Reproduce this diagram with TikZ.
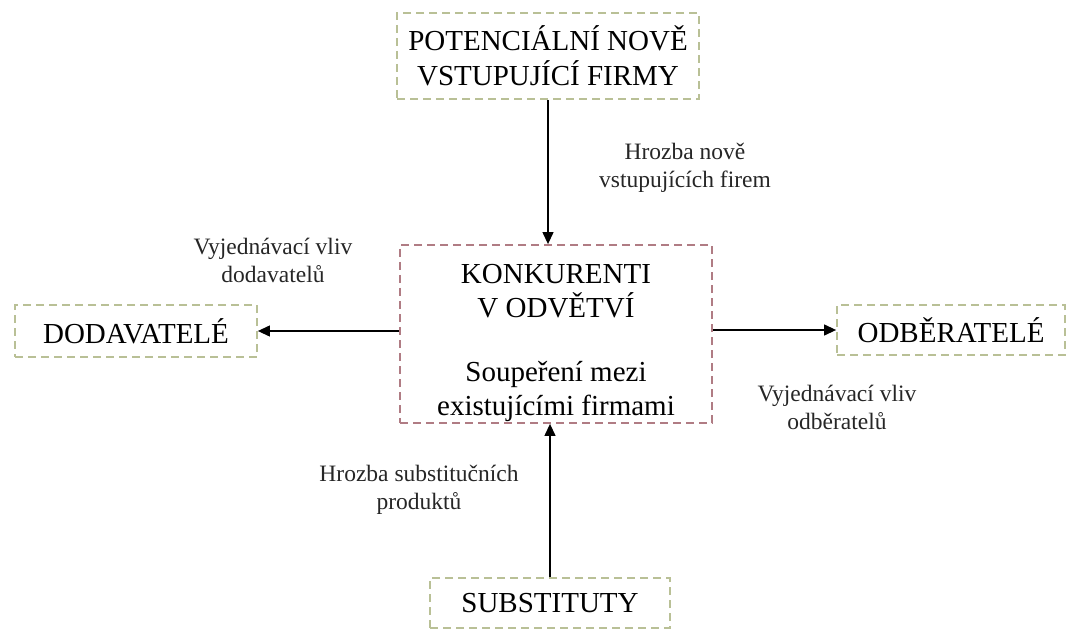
\documentclass[tikz,border=0pt]{standalone}
\usepackage{fontspec}
\setmainfont{Liberation Serif}
\usetikzlibrary{arrows.meta}
\definecolor{olivebox}{RGB}{185,192,150}
\definecolor{rosebox}{RGB}{176,124,132}
\tikzset{
  outerbox/.style={draw=olivebox, line width=1.8pt, dash pattern=on 8pt off 5pt, align=center,
    font=\fontsize{29}{35}\selectfont, inner sep=0pt},
  ctrbox/.style={draw=rosebox, line width=1.8pt, dash pattern=on 8pt off 5pt, inner sep=0pt},
  boxtext/.style={align=center, font=\fontsize{29}{34}\selectfont, inner sep=0pt},
  lbl/.style={align=center, font=\fontsize{23.5}{28}\selectfont, text=black!85},
  arr/.style={line width=1.2pt, -{Triangle[length=12pt,width=11pt]}}
}
\begin{document}
\begin{tikzpicture}[x=1pt,y=-1pt]
\useasboundingbox (0,0) rectangle (1079,631);
\node[outerbox, minimum width=302pt, minimum height=86pt] (pot) at (548,56) {POTENCIÁLNÍ NOVĚ\\VSTUPUJÍCÍ FIRMY};
\node[ctrbox, minimum width=312pt, minimum height=178pt] (ctr) at (556,334) {};
\node[boxtext] (konk) at (556,291) {KONKURENTI\\V ODVĚTVÍ};
\node[boxtext] (soup) at (556,391) {Soupeření mezi\\existujícími firmami};
\node[outerbox, minimum width=242pt, minimum height=52pt] (dod) at (136,331) {DODAVATELÉ};
\node[outerbox, minimum width=228pt, minimum height=50pt] (odb) at (951,330) {ODBĚRATELÉ};
\node[outerbox, minimum width=240pt, minimum height=50pt] (sub) at (550,603) {SUBSTITUTY};

\draw[arr] (pot.south) -- (pot.south |- ctr.north);
\draw[arr] (sub.north) -- (sub.north |- ctr.south);
\draw[arr] (ctr.west |- dod.east) -- (dod.east);
\draw[arr] (ctr.east |- odb.west) -- (odb.west);

\node[lbl] (lpot) at (685,168) {Hrozba nově\\vstupujících firem};
\node[lbl] (ldod) at (273,260) {Vyjednávací vliv\\dodavatelů};
\node[lbl] (lodb) at (837,407) {Vyjednávací vliv\\odběratelů};
\node[lbl] (lsub) at (419,490) {Hrozba substitučních\\produktů};
\end{tikzpicture}
\end{document}
